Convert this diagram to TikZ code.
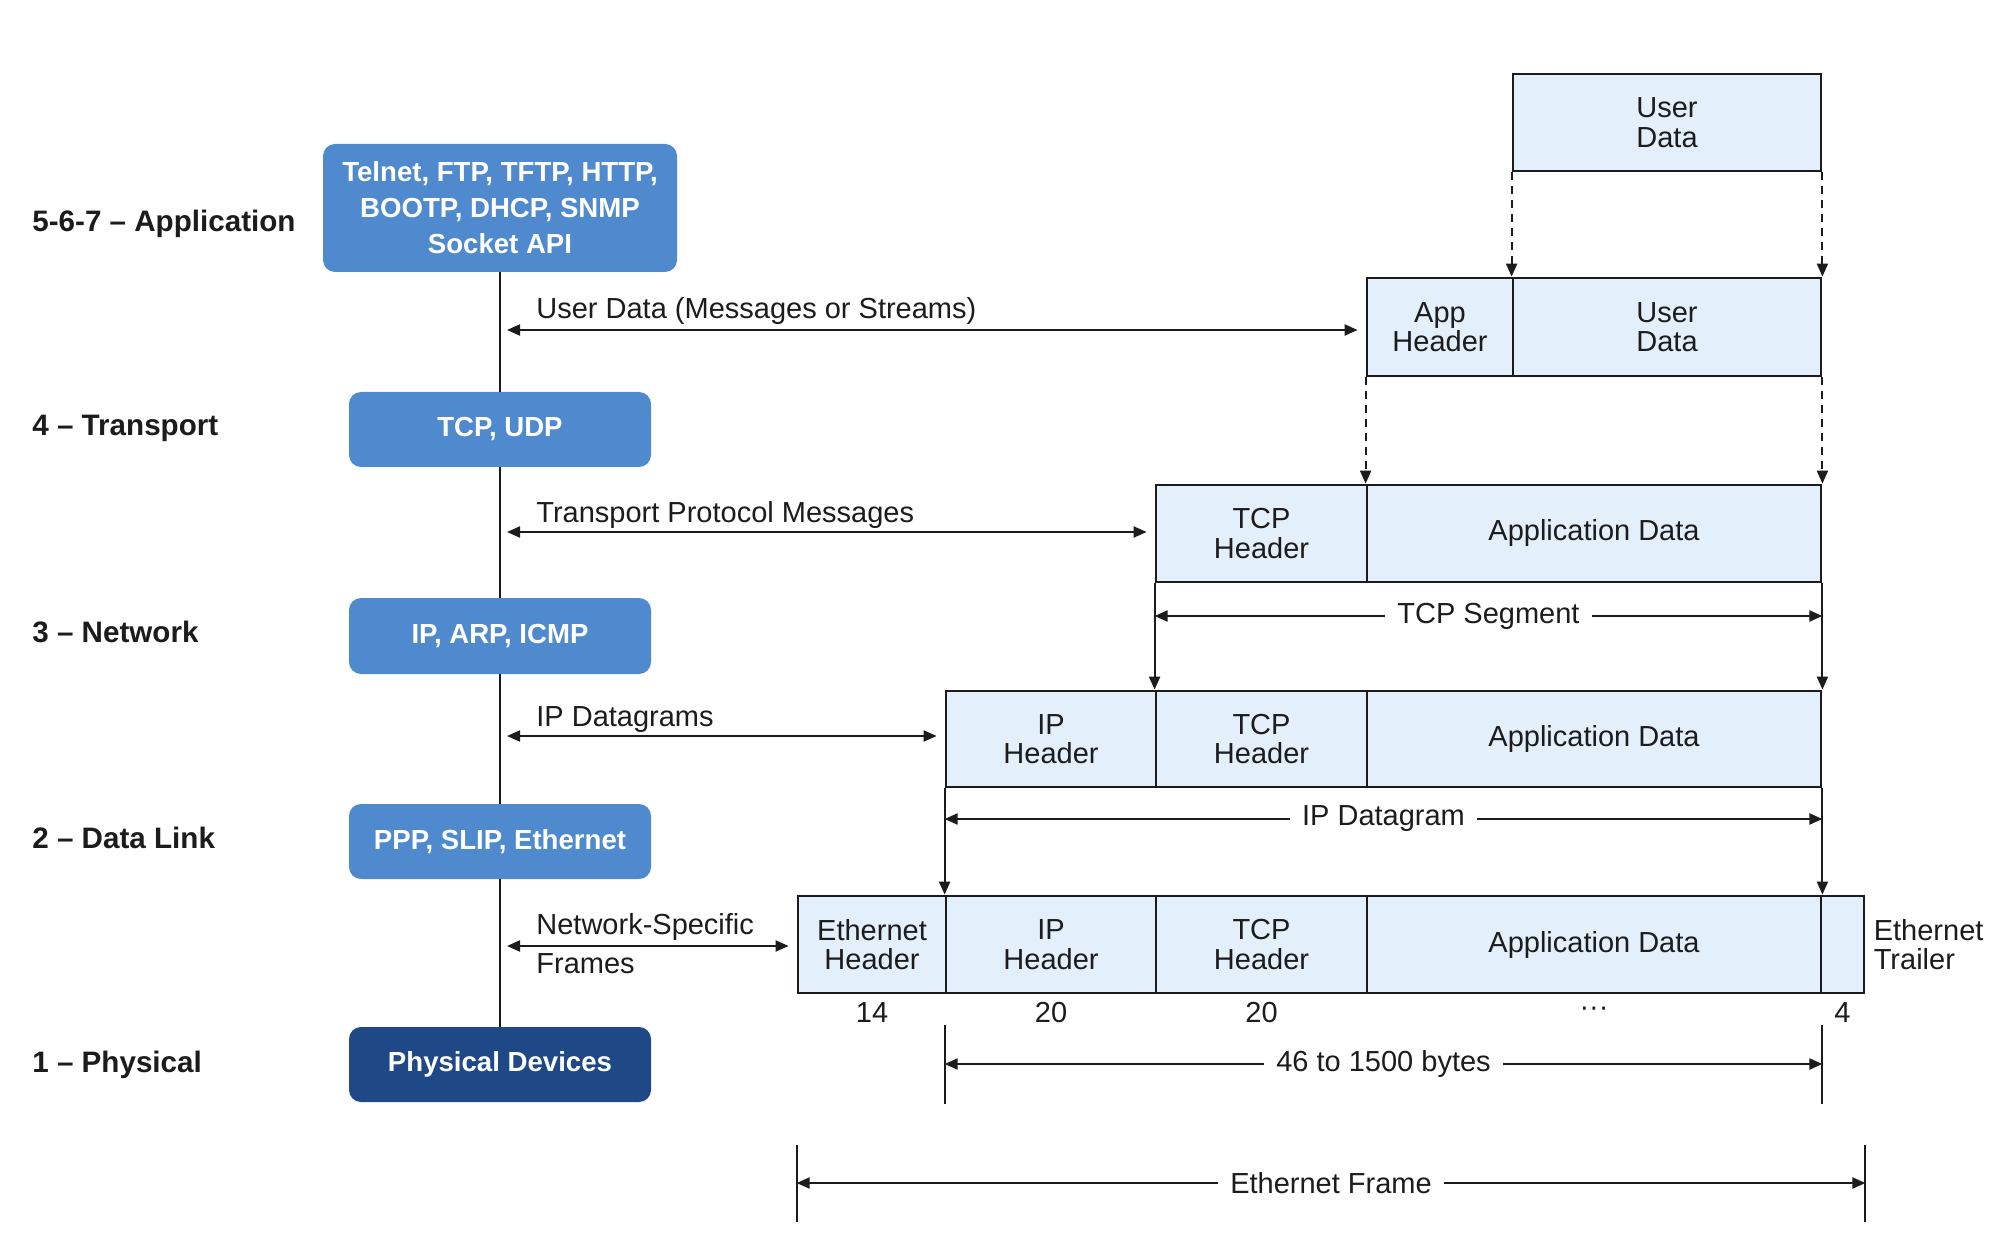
\documentclass[tikz,border=0pt]{standalone}
\usepackage{fontspec}
\setmainfont{Liberation Sans}
\usetikzlibrary{arrows.meta,calc}
\definecolor{midblue}{RGB}{79,137,206}
\definecolor{darkblue}{RGB}{30,73,134}
\definecolor{cellfill}{RGB}{228,239,252}
\definecolor{ink}{RGB}{28,28,28}
\begin{document}
\begin{tikzpicture}[x=0.5pt,y=-0.5pt,
  sz/.style 2 args={minimum width=#1*0.5pt, minimum height=#2*0.5pt},
  proto/.style={fill=midblue, rounded corners=6pt, text=white,
    font=\fontsize{13.8}{18}\selectfont\bfseries, align=center, inner sep=0pt},
  phys/.style={proto, fill=darkblue},
  cell/.style={draw=ink, line width=1.4pt, fill=cellfill, inner sep=0pt,
    align=center, font=\fontsize{14.5}{14.7}\selectfont, text=ink},
  layer/.style={font=\fontsize{14.8}{16}\selectfont\bfseries, anchor=base west, text=ink, inner sep=0pt},
  msg/.style={font=\fontsize{14.5}{16}\selectfont, anchor=base west, text=ink, inner sep=0pt},
  num/.style={font=\fontsize{14.5}{16}\selectfont, anchor=base, text=ink, inner sep=0pt},
  gaplabel/.style={font=\fontsize{14.5}{16}\selectfont, fill=white, text=ink, inner xsep=6pt, inner ysep=2pt},
  stackline/.style={draw=ink, line width=1pt},
  arr/.style={draw=ink, line width=1pt, -{Triangle[length=6.5pt,width=5.5pt]}},
  dblarr/.style={draw=ink, line width=1pt, {Triangle[length=6.5pt,width=5.5pt]}-{Triangle[length=6.5pt,width=5.5pt]}},
  dasharr/.style={arr, dash pattern=on 4pt off 3pt},
  tick/.style={draw=ink, line width=1pt}
]
\fill[white] (0,0) rectangle (2000,1256);
\useasboundingbox (0,0) rectangle (2000,1256);

% ---- layer labels
\node[layer] (l7) at (32,232) {5-6-7 – Application};
\node[layer] (l4) at (32,436) {4 – Transport};
\node[layer] (l3) at (32,642) {3 – Network};
\node[layer] (l2) at (32,848) {2 – Data Link};
\node[layer] (l1) at (32,1072) {1 – Physical};

% ---- protocol boxes
\node[proto, sz={354}{128}] (app) at (500,208) {Telnet, FTP, TFTP, HTTP,\\BOOTP, DHCP, SNMP\\Socket API};
\node[proto, sz={302}{75}] (tcp) at (500,429.5) {TCP, UDP};
\node[proto, sz={302}{76}] (ip) at (500,636) {IP, ARP, ICMP};
\node[proto, sz={302}{75}] (ppp) at (500,841.5) {PPP, SLIP, Ethernet};
\node[phys,  sz={302}{75}] (phy) at (500,1064.5) {Physical Devices};

\draw[stackline] (app.south) -- (tcp.north);
\draw[stackline] (tcp.south) -- (ip.north);
\draw[stackline] (ip.south) -- (ppp.north);
\draw[stackline] (ppp.south) -- (phy.north);

% ---- data units
\node[cell, sz={308}{97}] (ud) at (1667,122.5) {User\\Data};

\node[cell, sz={146}{98}] (apphdr) at (1440,327) {App\\Header};
\node[cell, sz={308}{98}] (appud) at (1667,327) {User\\Data};

\node[cell, sz={211}{97}] (tcph1) at (1261.5,533.5) {TCP\\Header};
\node[cell, sz={454}{97}] (ad1) at (1594,533.5) {Application Data};

\node[cell, sz={210}{96}] (iph2) at (1051,739) {IP\\Header};
\node[cell, sz={211}{96}] (tcph2) at (1261.5,739) {TCP\\Header};
\node[cell, sz={454}{96}] (ad2) at (1594,739) {Application Data};

\node[cell, sz={148}{97}] (ethh) at (872,944.5) {Ethernet\\Header};
\node[cell, sz={210}{97}] (iph3) at (1051,944.5) {IP\\Header};
\node[cell, sz={211}{97}] (tcph3) at (1261.5,944.5) {TCP\\Header};
\node[cell, sz={454}{97}] (ad3) at (1594,944.5) {Application Data};
\node[cell, sz={43}{97}] (trl) at (1842.5,944.5) {};

\node[msg, anchor=west, align=left, inner sep=0pt, font=\fontsize{14.5}{14.7}\selectfont]
  (trltxt) at ($(trl.east)+(8,0)$) {Ethernet\\Trailer};

% ---- encapsulation arrows
\draw[dasharr] (ud.south west) -- (appud.north west);
\draw[dasharr] (ud.south east) -- (appud.north east);
\draw[dasharr] (apphdr.south west) -- (ad1.north west);
\draw[dasharr] (appud.south east) -- (ad1.north east);
\draw[arr] (tcph1.south west) -- (tcph2.north west);
\draw[arr] (ad1.south east) -- (ad2.north east);
\draw[arr] (iph2.south west) -- (iph3.north west);
\draw[arr] (ad2.south east) -- (ad3.north east);

% ---- layer-to-unit arrows
\draw[dblarr, shorten <=3.5pt, shorten >=4pt] (app.south |- 0,330) -- (apphdr.west |- 0,330);
\node[msg] (m1) at (536,319) {User Data (Messages or Streams)};
\draw[dblarr, shorten <=3.5pt, shorten >=4pt] (tcp.south |- 0,532) -- (tcph1.west |- 0,532);
\node[msg] (m2) at (536,522) {Transport Protocol Messages};
\draw[dblarr, shorten <=3.5pt, shorten >=4pt] (ip.south |- 0,736) -- (iph2.west |- 0,736);
\node[msg] (m3) at (536,726) {IP Datagrams};
\draw[dblarr, shorten <=3.5pt, shorten >=4pt] (ppp.south |- 0,946) -- (ethh.west |- 0,946);
\node[msg] (m4a) at (536,934) {Network-Specific};
\node[msg] (m4b) at (536,973) {Frames};

% ---- dimensions
\coordinate (tsL) at (tcph1.south west |- 0,616);
\coordinate (tsR) at (ad1.south east |- 0,616);
\draw[dblarr] (tsL) -- node[gaplabel] (tslab) {TCP Segment} (tsR);

\coordinate (idL) at (iph2.south west |- 0,819);
\coordinate (idR) at (ad2.south east |- 0,819);
\draw[dblarr] (idL) -- node[gaplabel] (idlab) {IP Datagram} (idR);

\node[num] (n1) at (ethh.south |- 0,1022) {14};
\node[num] (n2) at (iph3.south |- 0,1022) {20};
\node[num] (n3) at (tcph3.south |- 0,1022) {20};
\node[num] (n4) at (ad3.south |- 0,1016) {···};
\node[num] (n5) at (trl.south |- 0,1022) {4};

\coordinate (pTL) at (iph3.south west |- 0,1025);
\coordinate (pBL) at (iph3.south west |- 0,1104);
\coordinate (pTR) at (ad3.south east |- 0,1025);
\coordinate (pBR) at (ad3.south east |- 0,1104);
\draw[tick] (pTL) -- (pBL);
\draw[tick] (pTR) -- (pBR);
\draw[dblarr] (iph3.south west |- 0,1064) -- node[gaplabel] (plab) {46 to 1500 bytes} (ad3.south east |- 0,1064);

\coordinate (fTL) at (ethh.south west |- 0,1145);
\coordinate (fBL) at (ethh.south west |- 0,1222);
\coordinate (fTR) at (trl.south east |- 0,1145);
\coordinate (fBR) at (trl.south east |- 0,1222);
\draw[tick] (fTL) -- (fBL);
\draw[tick] (fTR) -- (fBR);
\draw[dblarr] (ethh.south west |- 0,1183) -- node[gaplabel] (flab) {Ethernet Frame} (trl.south east |- 0,1183);
\end{tikzpicture}
\end{document}
